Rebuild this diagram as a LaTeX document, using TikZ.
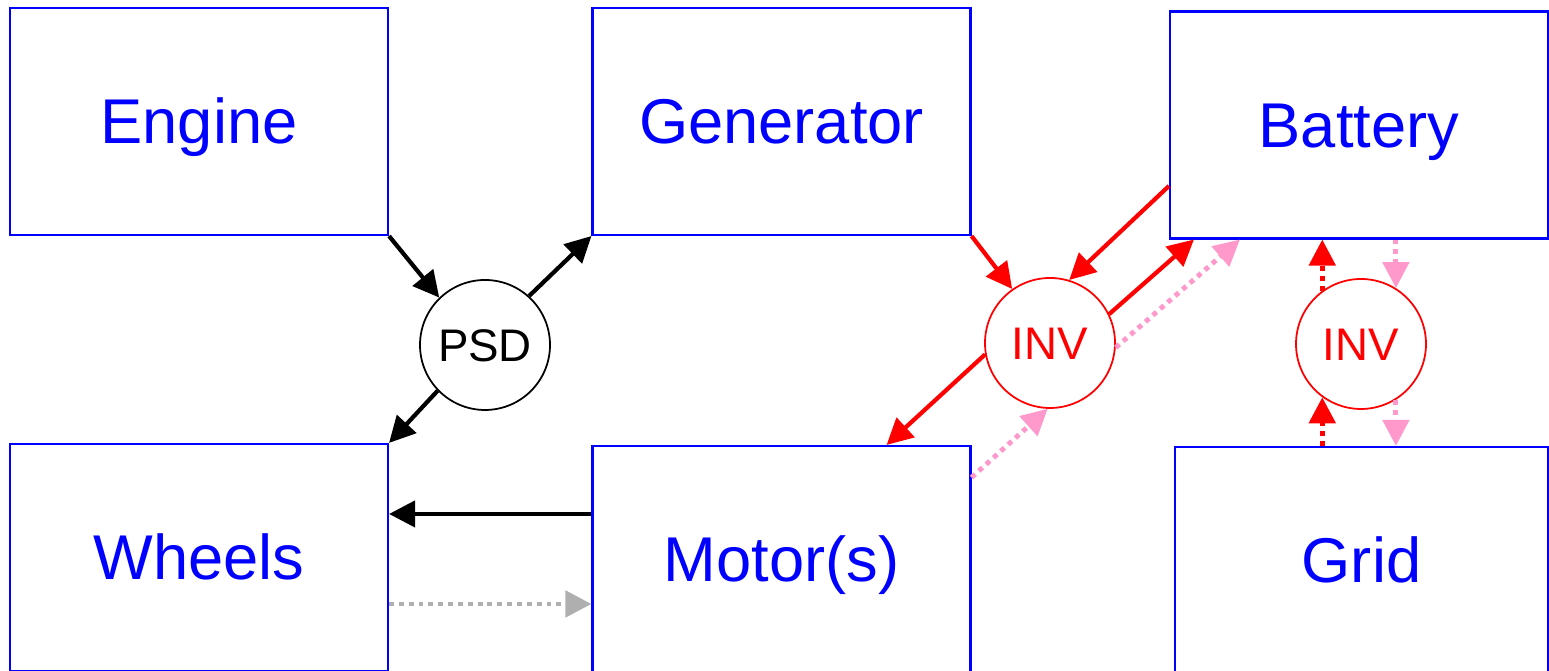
\documentclass[tikz,border=0pt]{standalone}
\usepackage{fontspec}
\setmainfont{Liberation Sans}
\usetikzlibrary{arrows.meta}

\definecolor{pinkflow}{RGB}{255,153,204}
\definecolor{grayflow}{RGB}{175,175,175}

\begin{document}
\begin{tikzpicture}[
		block/.style={draw=blue, line width=0.6pt, rectangle, minimum width=3.78cm, minimum height=2.27cm, text=blue, text height=0.45cm, text depth=0pt, font=\fontsize{18}{20}\selectfont},
		conv/.style={draw, circle, line width=0.5pt, minimum size=1.3cm, inner sep=0pt, fill=white, text height=0.33cm, text depth=0pt, font=\fontsize{13}{15}\selectfont},
		flow/.style={line width=1.2pt, -{Triangle[length=0.26cm,width=0.26cm]}},
		dots/.style={flow, line width=1.4pt, dash pattern=on 1.4pt off 1.4pt}
	]
	\useasboundingbox (0,0) rectangle (15.49,6.71);

	\node [block] (engine) at (1.99,5.495) {Engine};
	\node [block] (gen) at (7.815,5.495) {Generator};
	\node [block] (battery) at (13.59,5.46) {Battery};
	\node [block] (wheels) at (1.99,1.135) {Wheels};
	\node [block] (motor) at (7.815,1.115) {Motor(s)};
	\node [block, minimum width=3.73cm] (grid) at (13.615,1.105) {Grid};

	\node [conv] (psd) at (4.85,3.26) {PSD};
	\node [conv, draw=red, text=red] (inv1) at (10.50,3.28) {INV};
	\node [conv, draw=red, text=red] (inv2) at (13.61,3.27) {INV};

	% mechanical path
	\draw [flow] (engine.south east) -- (psd.134);
	\draw [flow] (psd.48) -- (gen.south west);
	\draw [flow] (psd.224) -- (wheels.north east);
	\draw [flow] ([yshift=4.55mm]motor.west) coordinate (m1) -- (m1 -| wheels.east);
	\draw [dots, grayflow] ([yshift=-4.65mm]wheels.east) coordinate (w1) -- (w1 -| motor.west);

	% electrical path
	\draw [flow, red] (gen.south east) -- (inv1.125);
	\draw [flow, red] ([yshift=-6.1mm]battery.west) -- (inv1.73);
	\draw [flow, red] (inv1.26) -- ([xshift=2.5mm]battery.south west);
	\draw [dots, pinkflow] (inv1.356) -- ([xshift=7.1mm]battery.south west);
	\draw [flow, red] (inv1.190) -- ([xshift=-8.5mm]motor.north east);
	\draw [dots, pinkflow] ([yshift=8.2mm]motor.east) -- (inv1.268);

	% charging
	\draw [dots, red] (inv2.126) -- (inv2.126 |- battery.south);
	\draw [dots, pinkflow] (inv2.58 |- battery.south) -- (inv2.58);
	\draw [dots, red] (inv2.234 |- grid.north) -- (inv2.234);
	\draw [dots, pinkflow] (inv2.302) -- (inv2.302 |- grid.north);
\end{tikzpicture}
\end{document}
